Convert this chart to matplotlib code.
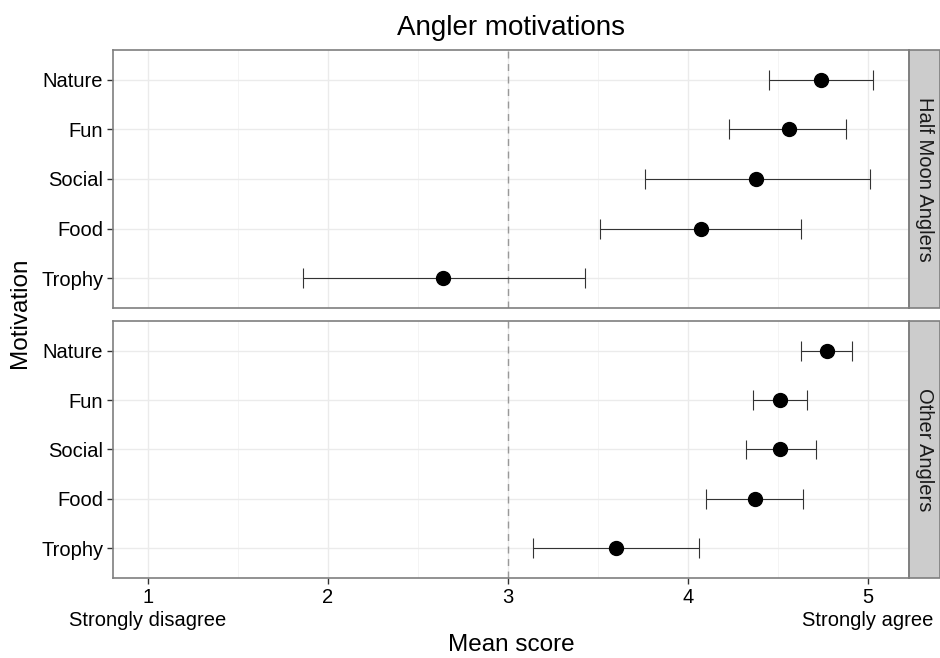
import matplotlib
matplotlib.use("Agg")
import matplotlib.pyplot as plt
from matplotlib.patches import Rectangle

plt.rcParams["font.family"] = ["Liberation Sans", "DejaVu Sans"]

motivations = ["Trophy", "Food", "Social", "Fun", "Nature"]
panels = ["Half Moon Anglers", "Other Anglers"]

# Means and interval ends (order as in motivations).
hm_mean = [2.64, 4.07, 4.38, 4.56, 4.74]
hm_low = [1.86, 3.51, 3.76, 4.23, 4.45]
hm_high = [3.43, 4.63, 5.01, 4.88, 5.03]

oth_mean = [3.60, 4.37, 4.51, 4.51, 4.77]
oth_low = [3.14, 4.10, 4.32, 4.36, 4.63]
oth_high = [4.06, 4.64, 4.71, 4.66, 4.91]

xticks = [1, 2, 3, 4, 5]
xticklabels = ["1\nStrongly disagree", "2", "3", "4", "5\nStrongly agree"]

fig = plt.figure(figsize=(9.4, 6.58), dpi=100)
ax1 = fig.add_axes([113 / 940, 1 - 308 / 658, 796 / 940, 258 / 658])
ax2 = fig.add_axes([113 / 940, 1 - 578 / 658, 796 / 940, 257 / 658])

data = [(hm_mean, hm_low, hm_high), (oth_mean, oth_low, oth_high)]
border = "#7f7f7f"
fs_tick = 14.5

for ax, (mean, low, high), name in zip([ax1, ax2], data, panels):
    y = list(range(len(motivations)))
    ax.set_xlim(0.806, 5.228)
    ax.set_ylim(-0.6, 4.6)
    # grid
    for gx in [1.5, 2.5, 3.5, 4.5]:
        ax.axvline(gx, color="#f2f2f2", lw=0.6, zorder=0)
    for gx in xticks:
        ax.axvline(gx, color="#ebebeb", lw=1.0, zorder=0)
    for gy in y:
        ax.axhline(gy, color="#ebebeb", lw=1.0, zorder=0)
    ax.axvline(3, color="#999999", lw=1.0, ls=(0, (5, 4)), zorder=1)

    ax.hlines(y, low, high, color="#333333", lw=0.8, zorder=2)
    ax.vlines(low, [v - 0.2 for v in y], [v + 0.2 for v in y], color="#333333", lw=0.8, zorder=2)
    ax.vlines(high, [v - 0.2 for v in y], [v + 0.2 for v in y], color="#333333", lw=0.8, zorder=2)
    ax.plot(mean, y, "o", color="black", ms=10, zorder=3)

    ax.set_yticks(y)
    ax.set_yticklabels(motivations, fontsize=fs_tick)
    ax.set_xticks(xticks)
    ax.tick_params(axis="both", color="#333333", length=4, width=1, labelcolor="black", pad=3)
    for s in ax.spines.values():
        s.set_color(border)
        s.set_linewidth(1.2)

    # facet strip
    strip = Rectangle((1.0, 0), 31 / 796, 1, transform=ax.transAxes, clip_on=False,
                      facecolor="#cccccc", edgecolor=border, lw=1.2)
    ax.add_patch(strip)
    ax.text(1.0 + 15.5 / 796, 0.5, name, transform=ax.transAxes, rotation=-90,
            ha="center", va="center", fontsize=fs_tick, color="#1a1a1a")

ax1.set_xticklabels([])
ax1.tick_params(axis="x", length=0)
ax2.set_xticklabels(xticklabels, fontsize=fs_tick, linespacing=1.3)

fig.text(0.5 * (113 + 909) / 940, 1 - 28 / 658, "Angler motivations", ha="center", va="center", fontsize=20)
fig.text(0.5 * (113 + 909) / 940, 1 - 645 / 658, "Mean score", ha="center", va="center", fontsize=17.5)
fig.text(20 / 940, 1 - 313 / 658, "Motivation", ha="center", va="center", rotation=90, fontsize=17.5)

fig.savefig("out.png", dpi=100)
